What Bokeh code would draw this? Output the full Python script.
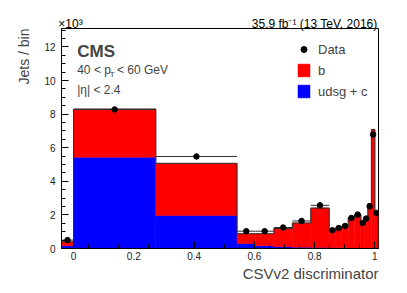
import math
import numpy as np
from bokeh.plotting import figure
from bokeh.models import (Label, Legend, LegendItem, Range1d, FixedTicker, ColumnDataSource,
                          Title, LinearAxis)
from bokeh.embed import file_html
from bokeh.resources import INLINE

# ---- data (counts in units of 10^3 jets per bin) ----
bin_edges = [-0.04, 0.0, 0.273, 0.5426, 0.6038, 0.6649, 0.7261, 0.7872, 0.8484,
             0.8694, 0.8904, 0.9115, 0.9325, 0.9535, 0.9651, 0.9767, 0.9884, 1.0, 1.0116]
udsg_c = [0.17, 5.44, 1.96, 0.30, 0.16, 0.11, 0.08, 0.06, 0.05,
          0.04, 0.04, 0.03, 0.03, 0.03, 0.03, 0.03, 0.03, 0.03]
mc_total = [0.40, 8.30, 5.07, 0.88, 0.88, 1.19, 1.52, 2.41, 1.10,
            1.22, 1.33, 1.80, 2.02, 1.55, 1.82, 2.67, 7.09, 2.17]
data_vals = [0.50, 8.28, 5.48, 1.03, 1.03, 1.25, 1.64, 2.57, 1.09,
             1.22, 1.34, 1.82, 2.02, 1.52, 1.78, 2.51, 6.79, 2.12]
y_ticks = [0, 2, 4, 6, 8, 10, 12]
x_ticks = [0, 0.2, 0.4, 0.6, 0.8, 1.0]

FONT = "Liberation Sans"

edges = np.array(bin_edges)
left, right = edges[:-1], edges[1:]
centers = 0.5 * (left + right)

p = figure(width=400, height=290, output_backend="svg", toolbar_location=None,
           x_range=Range1d(-0.04, 1.012), y_range=Range1d(0, 13.1),
           min_border_left=61, min_border_right=22, min_border_top=28, min_border_bottom=42)
p.grid.visible = False
p.outline_line_color = "black"
p.outline_line_width = 1
p.background_fill_color = "white"
p.border_fill_color = "white"

src = ColumnDataSource(dict(left=left, right=right, udsg=udsg_c, total=mc_total))
r_udsg = p.quad(left="left", right="right", bottom=0, top="udsg", source=src,
                fill_color="#0000ff", line_color="#0000ff", line_width=0.5)
r_b = p.quad(left="left", right="right", bottom="udsg", top="total", source=src,
             fill_color="#ff0000", line_color="#ff0000", line_width=0.5)

# total MC outline (step)
sx = np.concatenate([[edges[0]], np.repeat(edges, 2)[1:-1], [edges[-1]]])
sy = np.concatenate([[0], np.repeat(np.array(mc_total), 2), [0]])
p.line(sx, sy, line_color="#303030", line_width=1)

# data with x error bars
p.segment(x0=left, y0=data_vals, x1=right, y1=data_vals, line_color="#303030", line_width=1)
r_data = p.scatter(centers, data_vals, size=5.5, marker="circle", color="black")

# axes
for ax in (p.xaxis[0], p.yaxis[0]):
    ax.major_tick_in = 7
    ax.major_tick_out = 0
    ax.minor_tick_in = 4
    ax.minor_tick_out = 0
    ax.major_label_text_font = FONT
    ax.major_label_text_font_size = "10px"
    ax.major_label_text_color = "#222222"
    ax.axis_line_color = "black"
    ax.major_tick_line_color = "black"
    ax.minor_tick_line_color = "black"
p.xaxis.ticker = FixedTicker(ticks=x_ticks, minor_ticks=list(np.round(np.arange(-0.05, 1.0001, 0.05), 3)))
p.yaxis.ticker = FixedTicker(ticks=y_ticks, minor_ticks=list(np.arange(0, 13.01, 0.5)))
p.xaxis.major_label_standoff = 3
p.yaxis.major_label_standoff = 6
p.xaxis.major_label_overrides = {0: "0", 1: "1"}

# top annotation row: an axis above carrying the exponent and the luminosity text
top_ax = LinearAxis(ticker=FixedTicker(ticks=[-0.01, 0.80]),
                    major_label_overrides={-0.01: "\u00d710\u00b3", 0.8: "35.9 fb\u207b\u00b9 (13 TeV, 2016)"},
                    axis_line_alpha=0, major_tick_line_alpha=0, minor_tick_line_alpha=0,
                    major_tick_in=0, major_tick_out=0, minor_tick_in=0, minor_tick_out=0,
                    major_label_standoff=-2, major_label_text_font=FONT,
                    major_label_text_font_size="12px", major_label_text_color="black")
p.add_layout(top_ax, "above")

# axis titles in side panels, aligned to the frame end like ROOT
p.add_layout(Title(text="Jets / bin", align="right", text_font=FONT, text_font_size="14px",
                   text_font_style="normal", vertical_align="top", standoff=16), "left")
p.add_layout(Title(text="CSVv2 discriminator", align="right", text_font=FONT, text_font_size="15px",
                   text_font_style="normal", standoff=1), "below")

# legend
legend = Legend(items=[
    LegendItem(label="Data", renderers=[r_data]),
    LegendItem(label="b", renderers=[r_b]),
    LegendItem(label="udsg + c", renderers=[r_udsg]),
], location=(235, 149), glyph_width=15, glyph_height=16, spacing=5,
   label_standoff=7, padding=0, margin=0, border_line_alpha=0,
   background_fill_alpha=0, label_text_font=FONT, label_text_font_size="13px")
p.add_layout(legend)

# texts inside the frame (screen units relative to frame bottom-left)
def lab(x, y, text, size, **kw):
    p.add_layout(Label(x=x, y=y, x_units="screen", y_units="screen", text=text,
                       text_font=FONT, text_font_size=size, **kw))

lab(15.7, 197.5, "CMS", "17px", text_font_style="bold", text_baseline="alphabetic")
lab(15.7, 178.5, "40 < p", "12px", text_baseline="alphabetic")
lab(48.3, 174, "T", "8px", text_baseline="alphabetic")
lab(55.5, 178.5, "< 60 GeV", "12px", text_baseline="alphabetic")
lab(15.7, 158.5, "|\u03b7| < 2.4", "12px", text_baseline="alphabetic")

open("out.html", "w").write(file_html(p, INLINE))
